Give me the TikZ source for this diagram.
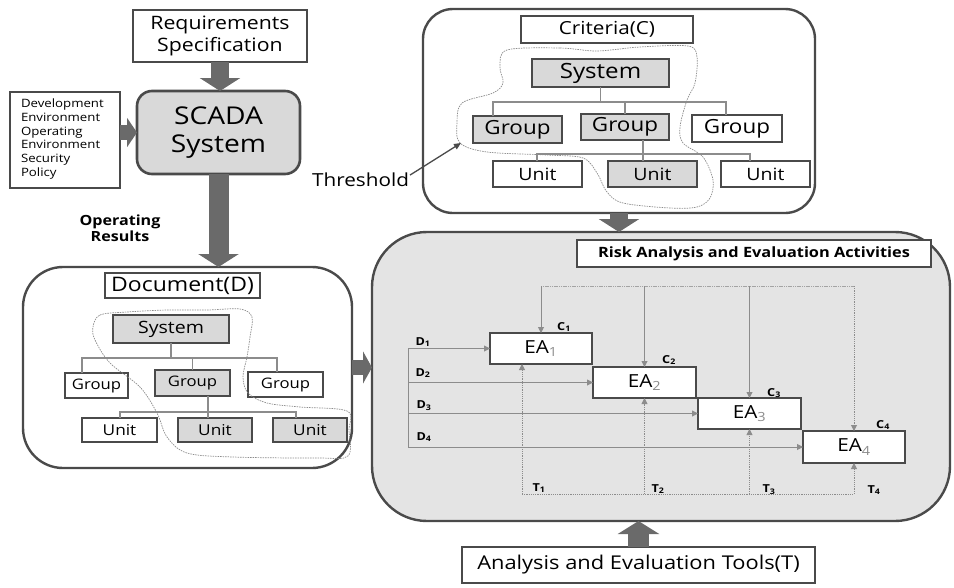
\documentclass[tikz,border=0pt]{standalone}
\usepackage{fontspec}
\setmainfont{Open Sans}[FakeStretch=1.15]
\usetikzlibrary{arrows.meta}
\definecolor{bd}{HTML}{4A4A4A}
\definecolor{lgray}{HTML}{D9D9D9}
\definecolor{rfill}{HTML}{E4E4E4}
\definecolor{arw}{HTML}{6A6A6A}
\definecolor{ln}{HTML}{8C8C8C}
\newcommand{\fsz}[2]{\fontsize{#1}{#2}\selectfont}
\newcommand{\sbs}[1]{\textsubscript{\textcolor{ln}{#1}}}
\begin{document}
\begin{tikzpicture}[x=1pt,y=-1pt,
  every node/.style={inner sep=0pt, outer sep=0pt},
  box/.style={draw=bd, line width=2.6pt, fill=white, anchor=north west, align=center},
  gbox/.style={box, fill=lgray},
  outerbox/.style={draw=bd, line width=2.4pt, anchor=north west},
  tree/.style={draw=ln, line width=1.5pt},
  blob/.style={draw=ln, line width=0.7pt, dash pattern=on 1.5pt off 1pt},
  bigarr/.style={draw=arw, line width=18pt, -{Triangle[length=13pt,width=40pt]}},
  sarr/.style={draw=ln, line width=0.9pt, -{Triangle[length=6pt,width=6pt]}},
  tarr/.style={sarr, dash pattern=on 1.2pt off 1pt},
  lab/.style={font=\fsz{11}{11}\bfseries},
]
\useasboundingbox (0,0) rectangle (954,587);

% ---------- outer containers ----------
\node[outerbox, fill=white, rounded corners=30pt, minimum width=392pt, minimum height=204pt] (crit) at (423,9) {};
\node[outerbox, fill=white, rounded corners=40pt, minimum width=329pt, minimum height=201pt] (doc) at (23,267) {};
\node[outerbox, fill=rfill, rounded corners=55pt, minimum width=578pt, minimum height=289pt] (risk) at (372,232) {};

% ---------- left column ----------
\node[box, minimum width=174pt, minimum height=52pt, font=\fsz{18.5}{22}] (req) at (133,10) {Requirements\\Specification};
\node[box, line width=2pt, minimum width=110pt, minimum height=96pt] (info) at (10,92) {};
\node[anchor=north west, align=left, font=\fsz{11.5}{13.7}] (infotxt) at (21,99) {Development\\Environment\\Operating\\Environment\\Security\\Policy};
\node[gbox, rounded corners=15pt, minimum width=163pt, minimum height=83pt, font=\fsz{24.5}{28}] (scada) at (137,91) {SCADA\\System};
\node[align=center, font=\fsz{14}{16.5}\bfseries] (opres) at (120,228) {Operating\\Results};

% ---------- criteria ----------
\node[box, minimum width=172pt, minimum height=27pt, font=\fsz{18}{18}] (critlab) at (521,16) {Criteria(C)};
\node[gbox, minimum width=137pt, minimum height=28pt, font=\fsz{21}{21}] (csys) at (532,59) {System};
\node[gbox, minimum width=89pt, minimum height=27pt, font=\fsz{19.5}{19.5}] (cg1) at (473,116) {Group};
\node[gbox, minimum width=88pt, minimum height=26pt, font=\fsz{19.5}{19.5}] (cg2) at (581,114) {Group};
\node[box, minimum width=90pt, minimum height=27pt, font=\fsz{19.5}{19.5}] (cg3) at (692,115) {Group};
\node[box, minimum width=89pt, minimum height=26pt, font=\fsz{17}{17}] (cu1) at (493,161) {Unit};
\node[gbox, minimum width=89pt, minimum height=26pt, font=\fsz{17}{17}] (cu2) at (608,161) {Unit};
\node[box, minimum width=89pt, minimum height=26pt, font=\fsz{17}{17}] (cu3) at (721,161) {Unit};
\coordinate (cbl) at (493,102);
\coordinate (cbr) at (726,102);
\coordinate (cul) at (537,154);
\coordinate (cur) at (750,154);
\coordinate (cux) at (643,154);
\draw[tree] (csys.south) -- (csys.south |- cbl);
\draw[tree] (cg1.north -| cbl) -- (cbl) -- (cbr) -- (cg3.north -| cbr);
\draw[tree] (cg2.north) -- (cg2.north |- cbl);
\draw[tree] (cg2.south -| cux) -- (cu2.north -| cux);
\draw[tree] (cu1.north -| cul) -- (cul) -- (cur) -- (cu3.north -| cur);
\draw[blob] plot[smooth cycle, tension=0.55] coordinates {(507,50) (560,48) (597,51) (640,47) (688,46) (697,57) (695,83) (687,100) (680,127) (683,143) (703,157) (713,180) (710,198) (697,207) (670,208) (623,203) (607,192) (597,173) (583,158) (547,155) (487,152) (460,143) (457,123) (462,103) (493,93) (503,83) (500,67)};
\node[anchor=east, font=\fsz{18}{18}] (thr) at (409,180) {Threshold};
\coordinate (thrtip) at (461,143);
\draw[draw=bd, line width=1.3pt, -{Triangle[length=7pt,width=6pt]}] ([xshift=1pt,yshift=-2pt]thr.north east) -- (thrtip);

% ---------- document ----------
\node[box, minimum width=155pt, minimum height=25pt, font=\fsz{20}{20}] (doclab) at (105,273) {Document(D)};
\node[gbox, minimum width=116pt, minimum height=28pt, font=\fsz{17}{17}] (dsys) at (113,315) {System};
\node[box, minimum width=63pt, minimum height=25pt, font=\fsz{14.5}{14.5}] (dg1) at (65,373) {Group};
\node[gbox, minimum width=75pt, minimum height=26pt, font=\fsz{14.5}{14.5}] (dg2) at (155,370) {Group};
\node[box, minimum width=75pt, minimum height=25pt, font=\fsz{14.5}{14.5}] (dg3) at (248,372) {Group};
\node[box, minimum width=75pt, minimum height=24pt, font=\fsz{15}{15}] (du1) at (82,418) {Unit};
\node[gbox, minimum width=74pt, minimum height=24pt, font=\fsz{15}{15}] (du2) at (178,418) {Unit};
\node[gbox, minimum width=74pt, minimum height=24pt, font=\fsz{15}{15}] (du3) at (273,418) {Unit};
\coordinate (dbl) at (82,358);
\coordinate (dbr) at (277,358);
\coordinate (dul) at (120,412);
\coordinate (dur) at (296,412);
\coordinate (dux) at (208,412);
\draw[tree] (dsys.south) -- (dsys.south |- dbl);
\draw[tree] (dg1.north -| dbl) -- (dbl) -- (dbr) -- (dg3.north -| dbr);
\draw[tree] (dg2.north) -- (dg2.north |- dbl);
\draw[tree] (dg2.south -| dux) -- (du2.north -| dux);
\draw[tree] (du1.north -| dul) -- (dul) -- (dur) -- (du3.north -| dur);
\draw[blob] plot[smooth cycle, tension=0.55] coordinates {(93,327) (100,315) (127,312) (167,310) (207,310) (240,309) (252,317) (250,337) (247,357) (243,377) (248,393) (267,403) (300,407) (347,411) (349,430) (348,456) (317,458) (233,457) (187,453) (167,437) (157,413) (140,387) (110,363) (95,340)};

% ---------- risk analysis ----------
\node[box, minimum width=354pt, minimum height=27pt, font=\fsz{14.2}{14.2}\bfseries] (risklab) at (577,240) {Risk Analysis and Evaluation Activities};
\node[box, minimum width=102pt, minimum height=31pt, font=\fsz{18}{18}] (ea1) at (490,333) {EA\sbs{1}};
\node[box, minimum width=103pt, minimum height=31pt, font=\fsz{18}{18}] (ea2) at (593,367) {EA\sbs{2}};
\node[box, minimum width=103pt, minimum height=31pt, font=\fsz{18}{18}] (ea3) at (698,398) {EA\sbs{3}};
\node[box, minimum width=102pt, minimum height=32pt, font=\fsz{18}{18}] (ea4) at (803,431) {EA\sbs{4}};
\coordinate (ctop) at (541,286);
\coordinate (dleft) at (408,349);
\coordinate (tbot) at (522,494);
% criteria inputs
\draw[draw=ln!80, line width=0.9pt, dash pattern=on 1.2pt off 0.6pt] (ea1.north |- ctop) -- (ea4.north |- ctop);
\draw[sarr] (ea1.north |- ctop) -- (ea1.north);
\draw[sarr] (ea2.north |- ctop) -- (ea2.north);
\draw[sarr] (ea3.north |- ctop) -- (ea3.north);
\draw[tarr] (ea4.north |- ctop) -- (ea4.north);
% document inputs
\draw[draw=ln, line width=0.9pt] (dleft |- ea1.west) -- (dleft |- ea4.west);
\draw[sarr] (dleft |- ea1.west) -- (ea1.west);
\draw[sarr] (dleft |- ea2.west) -- (ea2.west);
\draw[sarr] (dleft |- ea3.west) -- (ea3.west);
\draw[sarr] (dleft |- ea4.west) -- (ea4.west);
% tool inputs
\draw[draw=ln, line width=0.9pt, dash pattern=on 1.2pt off 1pt] (tbot) -- (ea4.south |- tbot);
\draw[tarr] (tbot) -- (tbot |- ea1.south);
\draw[tarr] (ea2.south |- tbot) -- (ea2.south);
\draw[tarr] (ea3.south |- tbot) -- (ea3.south);
\draw[tarr] (ea4.south |- tbot) -- (ea4.south);
% labels
\node[lab] (d1) at (423,342) {D\textsubscript{1}};
\node[lab] (d2) at (423,373) {D\textsubscript{2}};
\node[lab] (d3) at (424,406) {D\textsubscript{3}};
\node[lab] (d4) at (424,437) {D\textsubscript{4}};
\node[lab] (c1) at (564,327) {C\textsubscript{1}};
\node[lab] (c2) at (669,360) {C\textsubscript{2}};
\node[lab] (c3) at (774,393) {C\textsubscript{3}};
\node[lab] (c4) at (883,425) {C\textsubscript{4}};
\node[lab] (t1) at (539,488) {T\textsubscript{1}};
\node[lab] (t2) at (658,489) {T\textsubscript{2}};
\node[lab] (t3) at (769,490) {T\textsubscript{3}};
\node[lab] (t4) at (874,490) {T\textsubscript{4}};

% ---------- tools ----------
\node[box, minimum width=353pt, minimum height=36pt, font=\fsz{19}{19}] (tools) at (462,547) {Analysis and Evaluation Tools(T)};

% ---------- block arrows ----------
\draw[bigarr] (req.south) -- (req.south |- scada.north);
\draw[bigarr, line width=15pt, -{Triangle[length=10pt,width=29pt]}] (info.east |- scada.west) -- (scada.west);
\draw[bigarr, line width=20pt] (scada.south) -- (scada.south |- doc.north);
\draw[bigarr, line width=15pt, -{Triangle[length=9pt,width=32pt]}] (doc.east) -- (doc.east -| risk.west);
\draw[bigarr] (crit.south) -- (crit.south |- risk.north);
\draw[bigarr, line width=21pt, -{Triangle[length=13pt,width=41pt]}] (tools.north) -- (tools.north |- risk.south);
\end{tikzpicture}
\end{document}
